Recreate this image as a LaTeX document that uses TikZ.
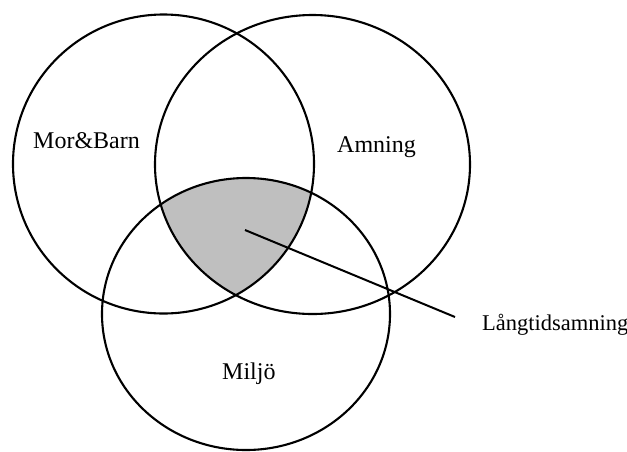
\documentclass[tikz,border=0pt]{standalone}
\usepackage{fontspec}
\setmainfont{Liberation Serif}
\begin{document}
\begin{tikzpicture}[x=1pt,y=-1pt,
  ring/.style={draw=black,line width=2.1pt},
  lbl/.style={anchor=base west,inner sep=0pt,font=\fontsize{24}{28}\selectfont},
  lead/.style={draw=black,line width=2pt}]
\useasboundingbox (0,0) rectangle (627,451);
% shaded triple intersection
\begin{scope}
  \clip (163.5,164) ellipse [x radius=150.5, y radius=149.5];
  \clip (312.5,164.5) ellipse [x radius=157.5, y radius=149.5];
  \fill[gray!50] (246,314) ellipse [x radius=144, y radius=136];
\end{scope}
\draw[ring] (163.5,164) ellipse [x radius=150.5, y radius=149.5];
\draw[ring] (312.5,164.5) ellipse [x radius=157.5, y radius=149.5];
\draw[ring] (246,314) ellipse [x radius=144, y radius=136];
\node[lbl] (mb) at (33,148) {Mor\&Barn};
\node[lbl] (am) at (337,152) {Amning};
\node[lbl] (mi) at (222,379) {Miljö};
\node[lbl,font=\fontsize{22.5}{27}\selectfont] (lt) at (482,330) {Långtidsamning};
\coordinate (p) at (245,230);
\coordinate (q) at (455,317);
\draw[lead] (p) -- (q);
\end{tikzpicture}
\end{document}
